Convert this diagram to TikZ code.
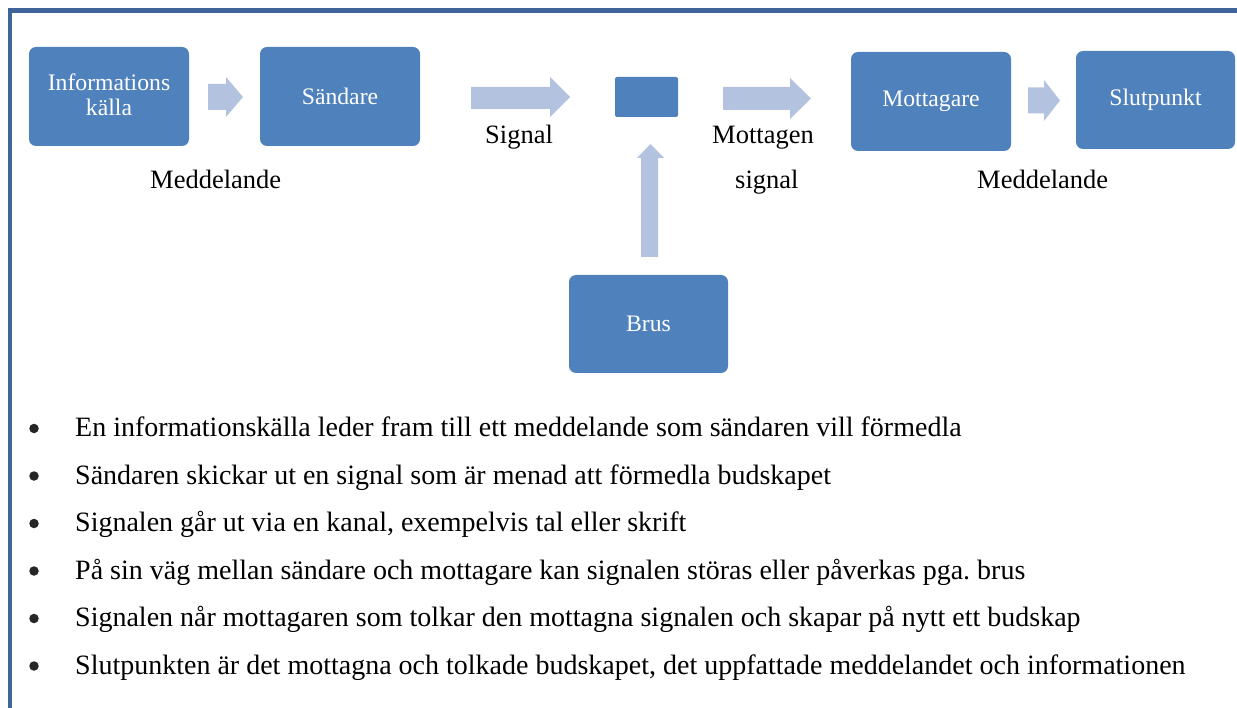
\documentclass[tikz,border=0pt]{standalone}
\usepackage{fontspec}
\setmainfont{Liberation Serif}
\frenchspacing
\definecolor{boxblue}{HTML}{4F81BD}
\definecolor{arrowblue}{HTML}{B3C3DF}
\definecolor{framecol}{HTML}{3F6499}
\tikzset{
  blk/.style={fill=boxblue, rounded corners=7pt, text=white, align=center, inner sep=0pt,
    font=\fontsize{23.7}{25}\selectfont},
  lbl/.style={anchor=base west, inner sep=0pt, font=\fontsize{26.5}{30}\selectfont},
  btxt/.style={anchor=base west, inner sep=0pt, font=\fontsize{28}{32}\selectfont},
  blockarrow/.style={fill=arrowblue},
  bul/.style={fill=black!85, circle, inner sep=0pt, minimum size=9.5pt},
}
\begin{document}
\begin{tikzpicture}[x=1pt,y=-1pt]
\useasboundingbox (0,0) rectangle (1237,708);
% frame
\draw[framecol, line width=4.5pt] (10,708) -- (10,10.6) -- (1237,10.6);
% boxes
\node[blk, minimum width=160pt, minimum height=99pt] (info) at (109,96.5) {};
\node[text=white, inner sep=0pt, anchor=base, font=\fontsize{23.7}{25}\selectfont] (infoA) at (109,91) {Informations};
\node[text=white, inner sep=0pt, anchor=base, font=\fontsize{23.7}{25}\selectfont] (infoB) at (109,116) {källa};
\node[blk, minimum width=160pt, minimum height=99pt] (send) at (340,96.5) {Sändare};
\node[blk, rounded corners=2pt, minimum width=63pt, minimum height=40pt] (chan) at (646.5,97) {};
\node[blk, minimum width=159pt, minimum height=98pt] (brus) at (648.5,324) {Brus};
\node[blk, minimum width=160pt, minimum height=99pt] (recv) at (931,101.5) {Mottagare};
\node[blk, minimum width=159pt, minimum height=98pt] (dest) at (1155.5,100) {Slutpunkt};
% block arrows
\fill[blockarrow] (208,84) -- (226,84) -- (226,77) -- (243,97) -- (226,117) -- (226,110) -- (208,110) -- cycle;
\fill[blockarrow] (471,87) -- (550,87) -- (550,77) -- (570,97) -- (550,117) -- (550,109) -- (471,109) -- cycle;
\fill[blockarrow] (723,87) -- (790,87) -- (790,78) -- (811,98.5) -- (790,119) -- (790,110) -- (723,110) -- cycle;
\fill[blockarrow] (641,257) -- (641,158) -- (637,158) -- (650.5,144) -- (664,158) -- (658,158) -- (658,257) -- cycle;
\fill[blockarrow] (1028,87.5) -- (1044,87.5) -- (1044,80) -- (1060,100.5) -- (1044,121) -- (1044,113.5) -- (1028,113.5) -- cycle;
% labels
\node[lbl] (m1) at (150,189) {Meddelande};
\node[lbl] (sig) at (485,144) {Signal};
\node[lbl] (mot) at (712,144) {Mottagen};
\node[lbl] (mot2) at (735,189) {signal};
\node[lbl] (m2) at (977,189) {Meddelande};
% bullets
\foreach \i/\t in {0/{En informationskälla leder fram till ett meddelande som sändaren vill förmedla},
  1/{Sändaren skickar ut en signal som är menad att förmedla budskapet},
  2/{Signalen går ut via en kanal, exempelvis tal eller skrift},
  3/{På sin väg mellan sändare och mottagare kan signalen störas eller påverkas pga. brus},
  4/{Signalen når mottagaren som tolkar den mottagna signalen och skapar på nytt ett budskap},
  5/{Slutpunkten är det mottagna och tolkade budskapet, det uppfattade meddelandet och informationen}}{
  \node[bul] (b\i) at (34,{436.5+47.5*\i-8}) {};
  \node[btxt] (t\i) at (75,{436.5+47.5*\i}) {\t};
}
\end{tikzpicture}
\end{document}
